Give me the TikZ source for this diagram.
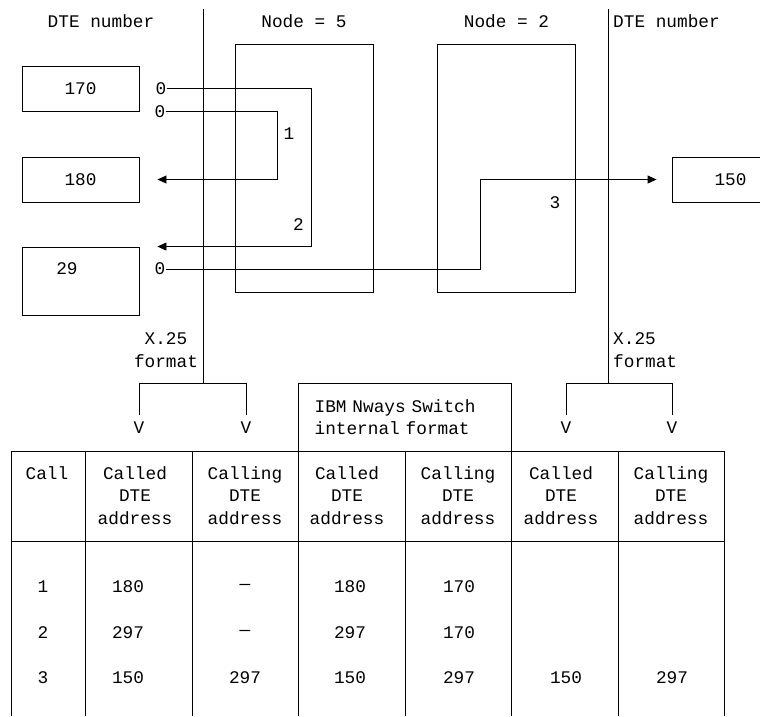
\documentclass[tikz,border=0pt]{standalone}
\usepackage{fontspec}
\setmainfont{Liberation Mono}
\usepackage{tikz}
\usetikzlibrary{arrows.meta, positioning, calc}

\tikzset{
  wire/.style={line width=0.9pt},
  flow/.style={wire, -{Triangle[length=9pt,width=8pt]}},
  txt/.style={inner sep=0pt, align=center},
  dtebox/.style={draw, wire, minimum width=117pt, minimum height=45pt, inner sep=0pt},
  nodebox/.style={draw, wire, minimum width=138pt, minimum height=248pt, inner sep=0pt},
}

\begin{document}
\begin{tikzpicture}[x=1pt, y=-1pt, font=\fontsize{17.75pt}{22.6pt}\selectfont]
    \useasboundingbox (0,0) rectangle (760,716);

    % DTEs and switch nodes
    \node[dtebox] (d170) at (80.5,88.5) {170};
    \node[dtebox] (d180) at (80.5,179.5) {180};
    \node[dtebox, minimum height=68pt] (d29) at (80.5,281) {};
    \node[txt] (t29) at (67,269) {29};
    \node[dtebox] (d150) at (730.5,179.5) {150};

    \node[nodebox] (n5) at (304,168) {};
    \node[nodebox] (n2) at (506.5,168) {};
    \node[txt, above=16pt of n5] (n5lbl) {Node = 5};
    \node[txt, above=16pt of n2] (n2lbl) {Node = 2};
    \node[txt] (dteL) at (101,21.5) {DTE number};
    \node[txt, anchor=west] (dteR) at (613,21.5) {DTE number};

    \draw[wire] (203,9) -- (203,383);
    \draw[wire] (608,9) -- (608,383);

    % calls
    \node[txt, right=16pt of d170] (o1) {0};
    \node[txt] (o2) at (160,111.5) {0};
    \node[txt] (o3) at (160,269) {0};
    \coordinate[right=18pt of d180] (in1);
    \coordinate (in2) at ([xshift=18pt]d29.north east);
    \coordinate[left=15pt of d150] (out3);

    \draw[flow] (o2.east) -- ++(112,0) |- (in1);
    \draw[flow] (o1.east) -- ++(145,0) |- (in2);
    \draw[flow] (o3.east) -- ++(315,0) |- (out3);
    \node[txt] (c1) at (289,134) {1};
    \node[txt] (c2) at (298.5,225) {2};
    \node[txt] (c3) at (555,203) {3};

    % formats
    \node[txt] (fmtL) at (166,350) {X.25\\format};
    \node[txt, align=left, anchor=west] (fmtR) at (613,350) {X.25\\format};
    \node[txt] (vA) at (139,428) {V};
    \node[txt] (vB) at (246,428) {V};
    \node[txt] (vC) at (566,428) {V};
    \node[txt] (vD) at (672,428) {V};
    \draw[wire] ([yshift=7pt]vA.north) -- ++(0,-32) -| ([yshift=7pt]vB.north);
    \draw[wire] ([yshift=7pt]vC.north) -- ++(0,-32) -| ([yshift=7pt]vD.north);
    \node[draw, wire, minimum height=68pt, text width=181pt, inner xsep=16pt, inner ysep=0pt,
          align=left] (ibm) at (405.1,417) {IBM Nways Switch\\internal format};

    % table
    \draw[wire] (11,451) -- (724.6,451);
    \draw[wire] (11,541) -- (724.6,541);
    \foreach \x in {11,85.6,192.1,298.6,405.1,511.6,618.1,724.6}
        \draw[wire] (\x,451) -- (\x,716);
    \foreach \x/\t [count=\i] in {47/Call, 135/{Called\\DTE\\address}, 245/{Calling\\DTE\\address},
            347/{Called\\DTE\\address}, 458/{Calling\\DTE\\address}, 561/{Called\\DTE\\address},
            671/{Calling\\DTE\\address}}
        \node[txt, anchor=north] (h\i) at (\x,466) {\t};
    \foreach \y/\ca/\cb/\cc/\cd/\ce/\cf/\cg [count=\r] in {
            587/1/180/\textemdash/180/170/{}/{},
            633/2/297/\textemdash/297/170/{}/{},
            678/3/150/297/150/297/150/297} {
        \node[txt] (r\r a) at (43,\y) {\ca};
        \node[txt] (r\r b) at (128,\y) {\cb};
        \node[txt] (r\r c) at (245,\y) {\cc};
        \node[txt] (r\r d) at (350,\y) {\cd};
        \node[txt] (r\r e) at (459,\y) {\ce};
        \node[txt] (r\r f) at (566,\y) {\cf};
        \node[txt] (r\r g) at (672,\y) {\cg};
    }
\end{tikzpicture}
\end{document}
